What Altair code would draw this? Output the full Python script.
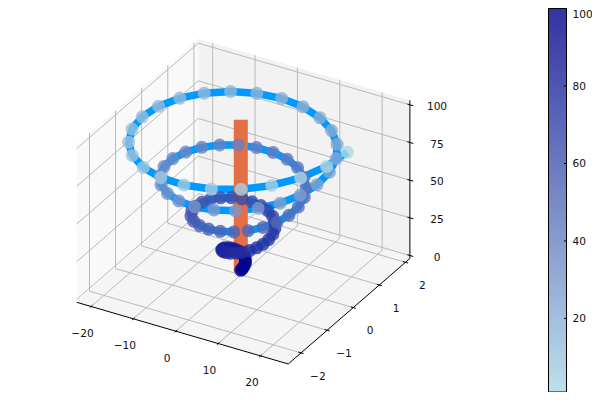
import numpy as np
import pandas as pd
import altair as alt

xs = [0.0, 0.25, 0.44, 0.55, 0.54, 0.38, 0.07, -0.36, -0.90, -1.50,
      -2.09, -2.62, -3.03, -3.26, -3.26, -2.99, -2.46, -1.67, -0.65, 0.53,
      1.81, 3.09, 4.28, 5.27, 5.98, 6.33, 6.27, 5.77, 4.82, 3.48,
      1.80, -0.13, -2.17, -4.19, -6.06, -7.62, -8.77, -9.39, -9.41, -8.80,
      -7.57, -5.77, -3.49, -0.87, 1.94, 4.75, 7.36, 9.61, 11.31, 12.34,
      12.59, 12.02, 10.63, 8.49, 5.70, 2.42, -1.13, -4.73, -8.16, -11.16,
      -13.54, -15.11, -15.73, -15.35, -13.94, -11.58, -8.38, -4.53, -0.27, 4.13,
      8.39, 12.23, 15.38, 17.61, 18.75, 18.70, 17.42, 14.97, 11.49, 7.16,
      2.25, -2.93, -8.04, -12.76, -16.76, -19.77, -21.56, -21.99, -20.99, -18.61,
      -14.96, -10.26, -4.78, 1.12, 7.09, 12.71, 17.64, 21.52, 24.08, 25.13]
ys = [0.0, 0.01, 0.02, 0.05, 0.09, 0.12, 0.15, 0.17, 0.18, 0.17,
      0.14, 0.10, 0.03, -0.05, -0.14, -0.24, -0.32, -0.40, -0.45, -0.48,
      -0.47, -0.43, -0.36, -0.25, -0.12, 0.04, 0.21, 0.37, 0.52, 0.65,
      0.74, 0.79, 0.78, 0.73, 0.62, 0.46, 0.26, 0.03, -0.21, -0.45,
      -0.68, -0.87, -1.01, -1.09, -1.10, -1.04, -0.91, -0.71, -0.45, -0.16,
      0.16, 0.48, 0.78, 1.04, 1.25, 1.38, 1.42, 1.37, 1.23, 1.00,
      0.70, 0.34, -0.05, -0.45, -0.83, -1.18, -1.45, -1.64, -1.73, -1.70,
      -1.57, -1.32, -0.99, -0.58, -0.12, 0.36, 0.83, 1.26, 1.61, 1.87,
      2.02, 2.04, 1.92, 1.68, 1.32, 0.87, 0.35, -0.21, -0.76, -1.28,
      -1.73, -2.07, -2.29, -2.36, -2.28, -2.05, -1.68, -1.20, -0.62, 0.0]
zs = [1, 2, 3, 4, 5, 6, 7, 8, 9, 10, 11, 12, 13, 14, 15, 16, 17, 18, 19, 20,
      21, 22, 23, 24, 25, 26, 27, 28, 29, 30, 31, 32, 33, 34, 35, 36, 37, 38, 39, 40,
      41, 42, 43, 44, 45, 46, 47, 48, 49, 50, 51, 52, 53, 54, 55, 56, 57, 58, 59, 60,
      61, 62, 63, 64, 65, 66, 67, 68, 69, 70, 71, 72, 73, 74, 75, 76, 77, 78, 79, 80,
      81, 82, 83, 84, 85, 86, 87, 88, 89, 90, 91, 92, 93, 94, 95, 96, 97, 98, 99, 100]
weights = zs[::-1]

xlim = [-23.4, 26.55]
ylim = [-2.49, 2.17]
zlim = [-1.97, 102.97]
xticks = [-20, -10, 0, 10, 20]
yticks = [-2, -1, 0, 1, 2]
zticks = [0, 25, 50, 75, 100]
cticks = [20, 40, 60, 80, 100]
MINUS = "\u2212"


def proj(x, y, z):
    return (240.8 + 4.236 * x + 26.1 * y,
            271.85 + 1.235 * x - 22.64 * y - 1.507 * z)


def depth(x, y, z):
    u = (x - xlim[0]) / (xlim[1] - xlim[0])
    v = (y - ylim[0]) / (ylim[1] - ylim[0])
    w = (z - zlim[0]) / (zlim[1] - zlim[0])
    return 0.433 * u - 0.75 * v + 0.375 * w


def polylines(paths):
    rows = []
    for s, pts in enumerate(paths):
        for i, p in enumerate(pts):
            rows.append({"seg": s, "i": i, "px": p[0], "py": p[1]})
    return pd.DataFrame(rows)


X = alt.X("px:Q", scale=alt.Scale(domain=[8, 592], nice=False, zero=False), axis=None)
Y = alt.Y("py:Q", scale=alt.Scale(domain=[392, 8], nice=False, zero=False), axis=None)
Y2 = alt.Y2("py2:Q")
x0, x1 = xlim
y0, y1 = ylim
z0, z1 = zlim

lb, lt = proj(x0, y0, z0), proj(x0, y0, z1)
bb, bt = proj(x0, y1, z0), proj(x0, y1, z1)
rb, rt = proj(x1, y1, z0), proj(x1, y1, z1)
fb = proj(x1, y0, z0)

left = pd.DataFrame({"px": [lb[0], bb[0]], "py": [lb[1], bb[1]], "py2": [lt[1], bt[1]]})
back = pd.DataFrame({"px": [bb[0], rb[0]], "py": [bb[1], rb[1]], "py2": [bt[1], rt[1]]})
fx = [lb[0], bb[0], fb[0], rb[0]]
floor = pd.DataFrame({
    "px": fx,
    "py": np.interp(fx, [lb[0], fb[0], rb[0]], [lb[1], fb[1], rb[1]]),
    "py2": np.interp(fx, [lb[0], bb[0], rb[0]], [lb[1], bb[1], rb[1]]),
})


def pane(df, color):
    return alt.Chart(df).mark_area(color=color, opacity=1).encode(x=X, y=Y, y2=Y2)


grid_paths = []
for t in xticks:
    grid_paths.append([proj(t, y0, z0), proj(t, y1, z0), proj(t, y1, z1)])
for t in yticks:
    grid_paths.append([proj(x1, t, z0), proj(x0, t, z0), proj(x0, t, z1)])
for t in zticks:
    grid_paths.append([proj(x0, y0, t), proj(x0, y1, t), proj(x1, y1, t)])

axis_paths = [[proj(x0, y0, z0), proj(x1, y0, z0), proj(x1, y1, z0), proj(x1, y1, z1)]]
for t in xticks:
    axis_paths.append([proj(t, y0 - 0.05, z0), proj(t, y0 + 0.05, z0)])
for t in yticks:
    axis_paths.append([proj(x1 - 0.6, t, z0), proj(x1 + 0.6, t, z0)])
for t in zticks:
    axis_paths.append([proj(x1 - 0.6, y1, t), proj(x1 + 0.8, y1, t)])

cb_left, cb_right, cb_top, cb_bottom = 548.5, 566.5, 8.5, 392.0


def cb_y(v):
    return cb_bottom - (v - 1) / 99 * (cb_bottom - cb_top)


axis_paths.append([(cb_left, cb_top), (cb_right, cb_top), (cb_right, cb_bottom),
                   (cb_left, cb_bottom), (cb_left, cb_top)])
for t in cticks:
    axis_paths.append([(cb_right - 2.5, cb_y(t)), (cb_right, cb_y(t))])

strips = pd.DataFrame({
    "px": [cb_left] * 100,
    "px2": [cb_right] * 100,
    "py": [round(cb_y(max(v - 0.5, 1))) for v in zs],
    "py2": [round(cb_y(min(v + 0.5, 100))) for v in zs],
    "c": zs,
})

pts = pd.DataFrame({"x": xs, "y": ys, "z": zs, "c": weights})
pts["px"], pts["py"] = proj(pts.x, pts.y, pts.z)
pts["d"] = depth(pts.x, pts.y, pts.z)
pts["i"] = np.arange(len(pts))

cen = pd.DataFrame({"x": [0.0, 0.0], "y": [0.0, 0.0], "z": [0, 101], "i": [0, 1]})
cen["px"], cen["py"] = proj(cen.x, cen.y, cen.z)

color = alt.Color("c:Q", legend=None,
                  scale=alt.Scale(domain=[1, 100], range=["#add8e6", "#00008b"], interpolate="rgb"))

labels = []
for t in xticks:
    p = proj(t, y0, z0)
    labels.append({"px": p[0] - 8.6, "py": p[1] + 27.5, "t": str(t).replace("-", MINUS)})
for t in yticks:
    p = proj(x1, t, z0)
    labels.append({"px": p[0] + 16.8, "py": p[1] + 23.7, "t": str(t).replace("-", MINUS)})
for t in zticks:
    p = proj(x1, y1, t)
    labels.append({"px": 437, "py": p[1] + 2.3, "t": str(t)})
lab_c = pd.DataFrame(labels)
lab_l = pd.DataFrame([{"px": 572.5, "py": max(cb_y(t) + 0.7, 14.8), "t": str(t)} for t in cticks])

FONT = dict(font="DejaVu Sans", fontSize=10.6, color="#111111", baseline="middle")

chart = alt.layer(
    pane(left, "#f9f9f9"),
    pane(back, "#f2f2f2"),
    pane(floor, "#f5f5f5"),
    alt.Chart(polylines(grid_paths)).mark_line(color="#b9b9b9", strokeWidth=1).encode(
        x=X, y=Y, detail="seg:N", order="i:Q"),
    alt.Chart(pts).mark_line(color="#0099ff", strokeWidth=7.5, strokeJoin="round", strokeCap="butt").encode(
        x=X, y=Y, order="i:Q"),
    alt.Chart(cen).mark_line(color="#e26f46", strokeWidth=14, strokeCap="butt").encode(
        x=X, y=Y, order="i:Q"),
    alt.Chart(pts).mark_point(filled=True, size=170, opacity=0.8, strokeWidth=0, shape="circle").encode(
        x=X, y=Y, color=color, order="d:Q"),
    alt.Chart(strips).mark_rect(opacity=0.8).encode(
        x=X, x2=alt.X2("px2:Q"), y=Y, y2=Y2, color=color),
    alt.Chart(polylines(axis_paths)).mark_line(color="#000000", strokeWidth=1).encode(
        x=X, y=Y, detail="seg:N", order="i:Q"),
    alt.Chart(lab_c).mark_text(align="center", **FONT).encode(x=X, y=Y, text="t:N"),
    alt.Chart(lab_l).mark_text(align="left", **FONT).encode(x=X, y=Y, text="t:N"),
).properties(
    width=584, height=384, padding=0,
    autosize=alt.AutoSizeParams(type="none"),
).configure_view(stroke=None)

chart.save("out.html", embed_options={"renderer": "svg", "actions": False})
